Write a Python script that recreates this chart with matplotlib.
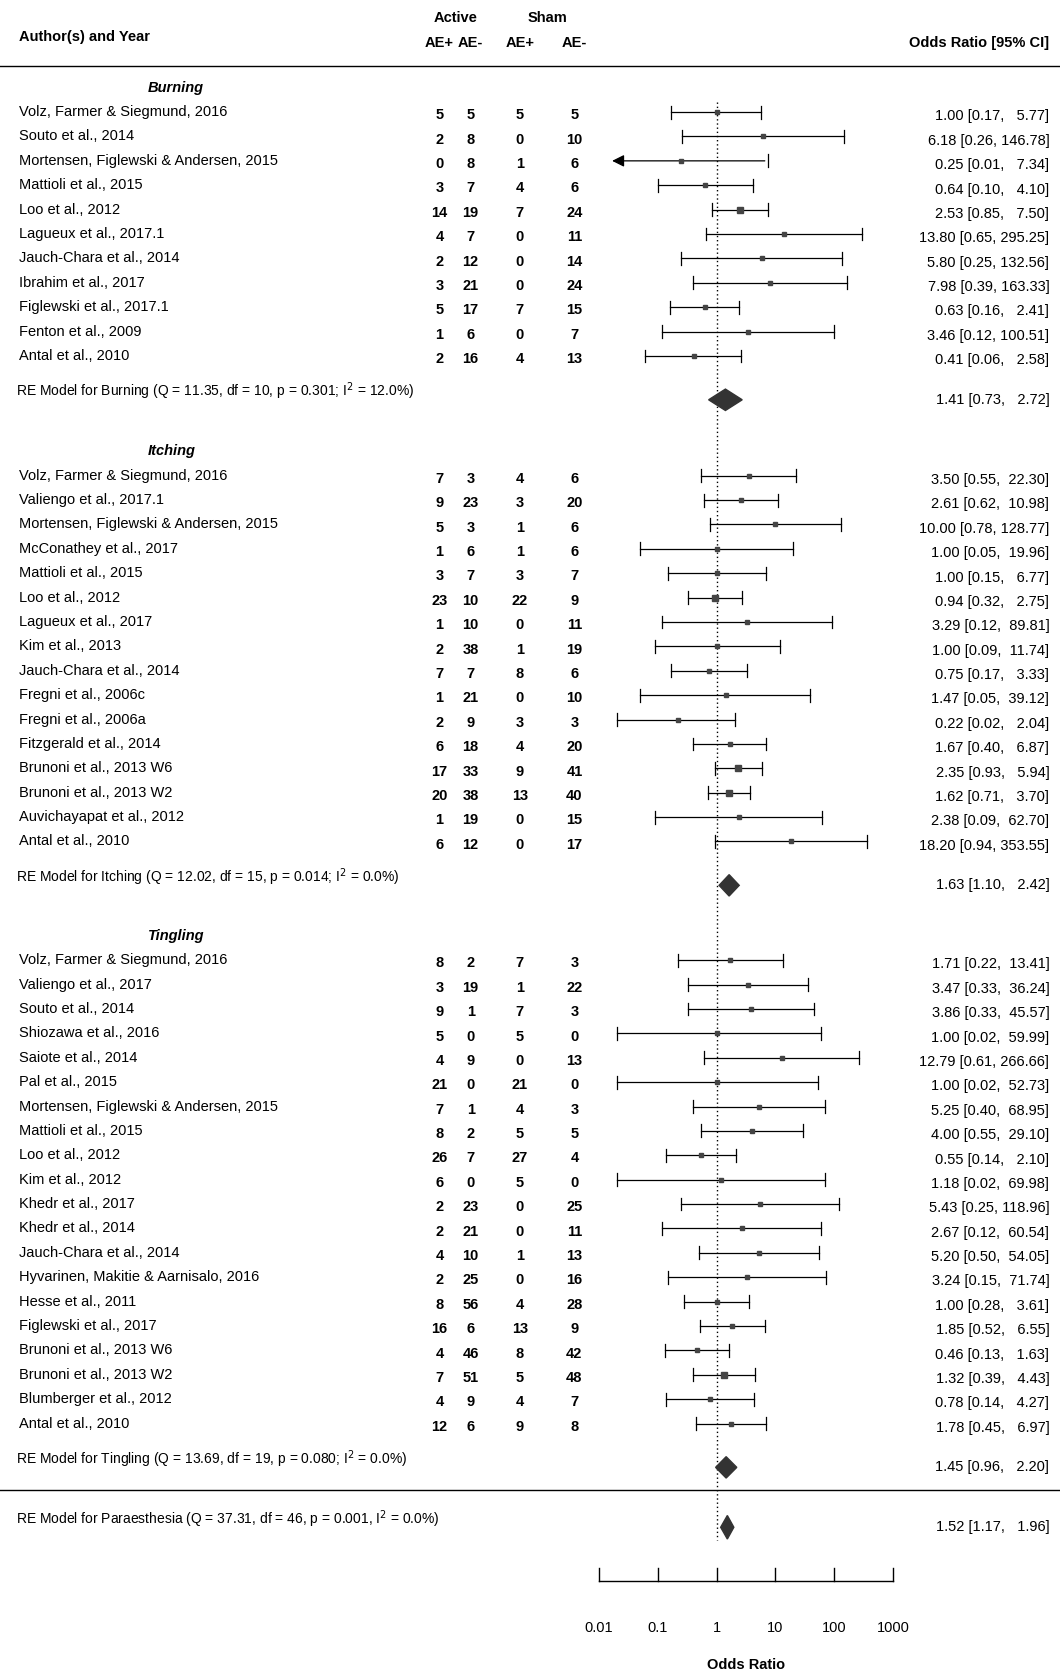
import numpy as np
import matplotlib.pyplot as plt

# ---------------- data ----------------
burn_names = ["Volz, Farmer & Siegmund, 2016", "Souto et al., 2014",
              "Mortensen, Figlewski & Andersen, 2015", "Mattioli et al., 2015",
              "Loo et al., 2012", "Lagueux et al., 2017.1", "Jauch-Chara et al., 2014",
              "Ibrahim et al., 2017", "Figlewski et al., 2017.1", "Fenton et al., 2009",
              "Antal et al., 2010"]
burn_counts = [[5, 5, 5, 5], [2, 8, 0, 10], [0, 8, 1, 6], [3, 7, 4, 6], [14, 19, 7, 24],
               [4, 7, 0, 11], [2, 12, 0, 14], [3, 21, 0, 24], [5, 17, 7, 15], [1, 6, 0, 7],
               [2, 16, 4, 13]]
burn_or = [1.00, 6.18, 0.25, 0.64, 2.53, 13.80, 5.80, 7.98, 0.63, 3.46, 0.41]
burn_lo = [0.17, 0.26, 0.01, 0.10, 0.85, 0.65, 0.25, 0.39, 0.16, 0.12, 0.06]
burn_hi = [5.77, 146.78, 7.34, 4.10, 7.50, 295.25, 132.56, 163.33, 2.41, 100.51, 2.58]
burn_re = (1.41, 0.73, 2.72)

itch_names = ["Volz, Farmer & Siegmund, 2016", "Valiengo et al., 2017.1",
              "Mortensen, Figlewski & Andersen, 2015", "McConathey et al., 2017",
              "Mattioli et al., 2015", "Loo et al., 2012", "Lagueux et al., 2017",
              "Kim et al., 2013", "Jauch-Chara et al., 2014", "Fregni et al., 2006c",
              "Fregni et al., 2006a", "Fitzgerald et al., 2014", "Brunoni et al., 2013 W6",
              "Brunoni et al., 2013 W2", "Auvichayapat et al., 2012", "Antal et al., 2010"]
itch_counts = [[7, 3, 4, 6], [9, 23, 3, 20], [5, 3, 1, 6], [1, 6, 1, 6], [3, 7, 3, 7],
               [23, 10, 22, 9], [1, 10, 0, 11], [2, 38, 1, 19], [7, 7, 8, 6], [1, 21, 0, 10],
               [2, 9, 3, 3], [6, 18, 4, 20], [17, 33, 9, 41], [20, 38, 13, 40],
               [1, 19, 0, 15], [6, 12, 0, 17]]
itch_or = [3.50, 2.61, 10.00, 1.00, 1.00, 0.94, 3.29, 1.00, 0.75, 1.47, 0.22, 1.67,
           2.35, 1.62, 2.38, 18.20]
itch_lo = [0.55, 0.62, 0.78, 0.05, 0.15, 0.32, 0.12, 0.09, 0.17, 0.05, 0.02, 0.40,
           0.93, 0.71, 0.09, 0.94]
itch_hi = [22.30, 10.98, 128.77, 19.96, 6.77, 2.75, 89.81, 11.74, 3.33, 39.12, 2.04,
           6.87, 5.94, 3.70, 62.70, 353.55]
itch_re = (1.63, 1.10, 2.42)

ting_names = ["Volz, Farmer & Siegmund, 2016", "Valiengo et al., 2017", "Souto et al., 2014",
              "Shiozawa et al., 2016", "Saiote et al., 2014", "Pal et al., 2015",
              "Mortensen, Figlewski & Andersen, 2015", "Mattioli et al., 2015",
              "Loo et al., 2012", "Kim et al., 2012", "Khedr et al., 2017", "Khedr et al., 2014",
              "Jauch-Chara et al., 2014", "Hyvarinen, Makitie & Aarnisalo, 2016",
              "Hesse et al., 2011", "Figlewski et al., 2017", "Brunoni et al., 2013 W6",
              "Brunoni et al., 2013 W2", "Blumberger et al., 2012", "Antal et al., 2010"]
ting_counts = [[8, 2, 7, 3], [3, 19, 1, 22], [9, 1, 7, 3], [5, 0, 5, 0], [4, 9, 0, 13],
               [21, 0, 21, 0], [7, 1, 4, 3], [8, 2, 5, 5], [26, 7, 27, 4], [6, 0, 5, 0],
               [2, 23, 0, 25], [2, 21, 0, 11], [4, 10, 1, 13], [2, 25, 0, 16], [8, 56, 4, 28],
               [16, 6, 13, 9], [4, 46, 8, 42], [7, 51, 5, 48], [4, 9, 4, 7], [12, 6, 9, 8]]
ting_or = [1.71, 3.47, 3.86, 1.00, 12.79, 1.00, 5.25, 4.00, 0.55, 1.18, 5.43, 2.67, 5.20,
           3.24, 1.00, 1.85, 0.46, 1.32, 0.78, 1.78]
ting_lo = [0.22, 0.33, 0.33, 0.02, 0.61, 0.02, 0.40, 0.55, 0.14, 0.02, 0.25, 0.12, 0.50,
           0.15, 0.28, 0.52, 0.13, 0.39, 0.14, 0.45]
ting_hi = [13.41, 36.24, 45.57, 59.99, 266.66, 52.73, 68.95, 29.10, 2.10, 69.98, 118.96,
           60.54, 54.05, 71.74, 3.61, 6.55, 1.63, 4.43, 4.27, 6.97]
ting_re = (1.45, 0.96, 2.20)

overall_re = (1.52, 1.17, 1.96)
re_labels = ["RE Model for Burning (Q = 11.35, df = 10, p = 0.301; I$^2$ = 12.0%)",
             "RE Model for Itching (Q = 12.02, df = 15, p = 0.014; I$^2$ = 0.0%)",
             "RE Model for Tingling (Q = 13.69, df = 19, p = 0.080; I$^2$ = 0.0%)"]
overall_label = "RE Model for Paraesthesia (Q = 37.31, df = 46, p = 0.001, I$^2$ = 0.0%)"
tick_vals = [0.01, 0.1, 1, 10, 100, 1000]
tick_labels = ["0.01", "0.1", "1", "10", "100", "1000"]

# ---------------- layout ----------------
W, H = 991, 1568                     # layout units (pixels of reference)
PPD = 55.0                           # pixels per decade
X0 = 670.0                           # x of OR = 1
def lx(px):
    return (px - X0) / PPD           # pixel -> log10 units

fig = plt.figure(figsize=(10.6, 16.77), dpi=100)
ax = fig.add_axes([0, 0, 1, 1])
ax.set_xlim(lx(0), lx(W))
ax.set_ylim(H, 0)
ax.axis("off")
plt.rcParams['font.family'] = ['Liberation Sans', 'DejaVu Sans']
fs = 10.5
cnt_x = [lx(411), lx(440), lx(486), lx(537)]
name_x = lx(18)
or_x = lx(981)

def fmt(o, l, h):
    return "%.2f [%.2f, %s]" % (o, l, ("%.2f" % h).rjust(6))

def diamond(y, o, l, h, hh=10):
    xs = [np.log10(l), np.log10(o), np.log10(h), np.log10(o)]
    ys = [y, y - hh, y, y + hh]
    ax.fill(xs, ys, color="#333333", zorder=3)

# header
ax.text(name_x, 35, "Author(s) and Year", fontsize=fs, fontweight="bold", va="center")
ax.text((cnt_x[0] + cnt_x[1]) / 2, 17, "Active", fontsize=fs, fontweight="bold", ha="center", va="center")
ax.text((cnt_x[2] + cnt_x[3]) / 2, 17, "Sham", fontsize=fs, fontweight="bold", ha="center", va="center")
for cx, lab in zip(cnt_x, ["AE+", "AE-", "AE+", "AE-"]):
    ax.text(cx, 40, lab, fontsize=fs, fontweight="bold", ha="center", va="center")
ax.text(or_x, 40, "Odds Ratio [95% CI]", fontsize=fs, fontweight="bold", ha="right", va="center")
ax.plot([lx(0), lx(W)], [62, 62], color="k", lw=1)

groups = [("Burning", burn_names, burn_counts, burn_or, burn_lo, burn_hi, burn_re, 82),
          ("Itching", itch_names, itch_counts, itch_or, itch_lo, itch_hi, itch_re, 422),
          ("Tingling", ting_names, ting_counts, ting_or, ting_lo, ting_hi, ting_re, 875)]
step = 22.8
left_lim = np.log10(0.015)

for gi, (title, names, counts, ors, los, his, re, y0) in enumerate(groups):
    ax.text(lx(138), y0, title, fontsize=fs, fontweight="bold", style="italic", va="center")
    for i in range(len(names)):
        y = y0 + step * (i + 1)
        ax.text(name_x, y, names[i], fontsize=fs, va="center")
        for cx, c in zip(cnt_x, counts[i]):
            ax.text(cx, y + 3, str(c), fontsize=fs, fontweight="bold", ha="center", va="center")
        ax.text(or_x, y + 4, fmt(ors[i], los[i], his[i]), fontsize=fs, ha="right", va="center")
        lo, hi, o = np.log10(los[i]), np.log10(his[i]), np.log10(ors[i])
        if lo < left_lim:
            ax.annotate("", xy=(left_lim, y), xytext=(hi, y),
                        arrowprops=dict(arrowstyle="-|>", color="k", lw=0.9,
                                        mutation_scale=18))
        else:
            ax.plot([lo, hi], [y, y], color="k", lw=0.9)
            ax.plot([lo, lo], [y - 6, y + 6], color="k", lw=0.9)
        ax.plot([hi, hi], [y - 6, y + 6], color="k", lw=0.9)
        se = (hi - lo) / (2 * 1.96)
        ms = np.clip(1.0 / se, 3, 5)
        ax.plot(o, y, marker="s", color="#444444", ms=ms, zorder=3)
    yre = y0 + step * len(names) + 33
    ax.text(name_x - 0.05, yre, re_labels[gi], fontsize=fs - 0.5, va="center")
    ax.text(or_x, yre + 8, fmt(*re), fontsize=fs, ha="right", va="center")
    diamond(yre + 8, *re)

ax.plot([lx(0), lx(W)], [1393, 1393], color="k", lw=1)
ax.text(name_x - 0.05, 1420, overall_label, fontsize=fs - 0.5, va="center")
ax.text(or_x, 1428, fmt(*overall_re), fontsize=fs, ha="right", va="center")
diamond(1428, *overall_re, hh=11)

# reference line
ax.plot([0, 0], [95, 1440], color="k", lw=1, ls=(0, (1, 2)))

# x axis
tl = np.log10(tick_vals)
ax.plot([tl[0], tl[-1]], [1478, 1478], color="k", lw=1)
for t, lab in zip(tl, tick_labels):
    ax.plot([t, t], [1478, 1466], color="k", lw=1)
    ax.text(t, 1522, lab, fontsize=fs, ha="center", va="center")
ax.text(np.mean(tl), 1557, "Odds Ratio", fontsize=fs, fontweight="bold", ha="center", va="center")

fig.savefig("out.png", dpi=100)
